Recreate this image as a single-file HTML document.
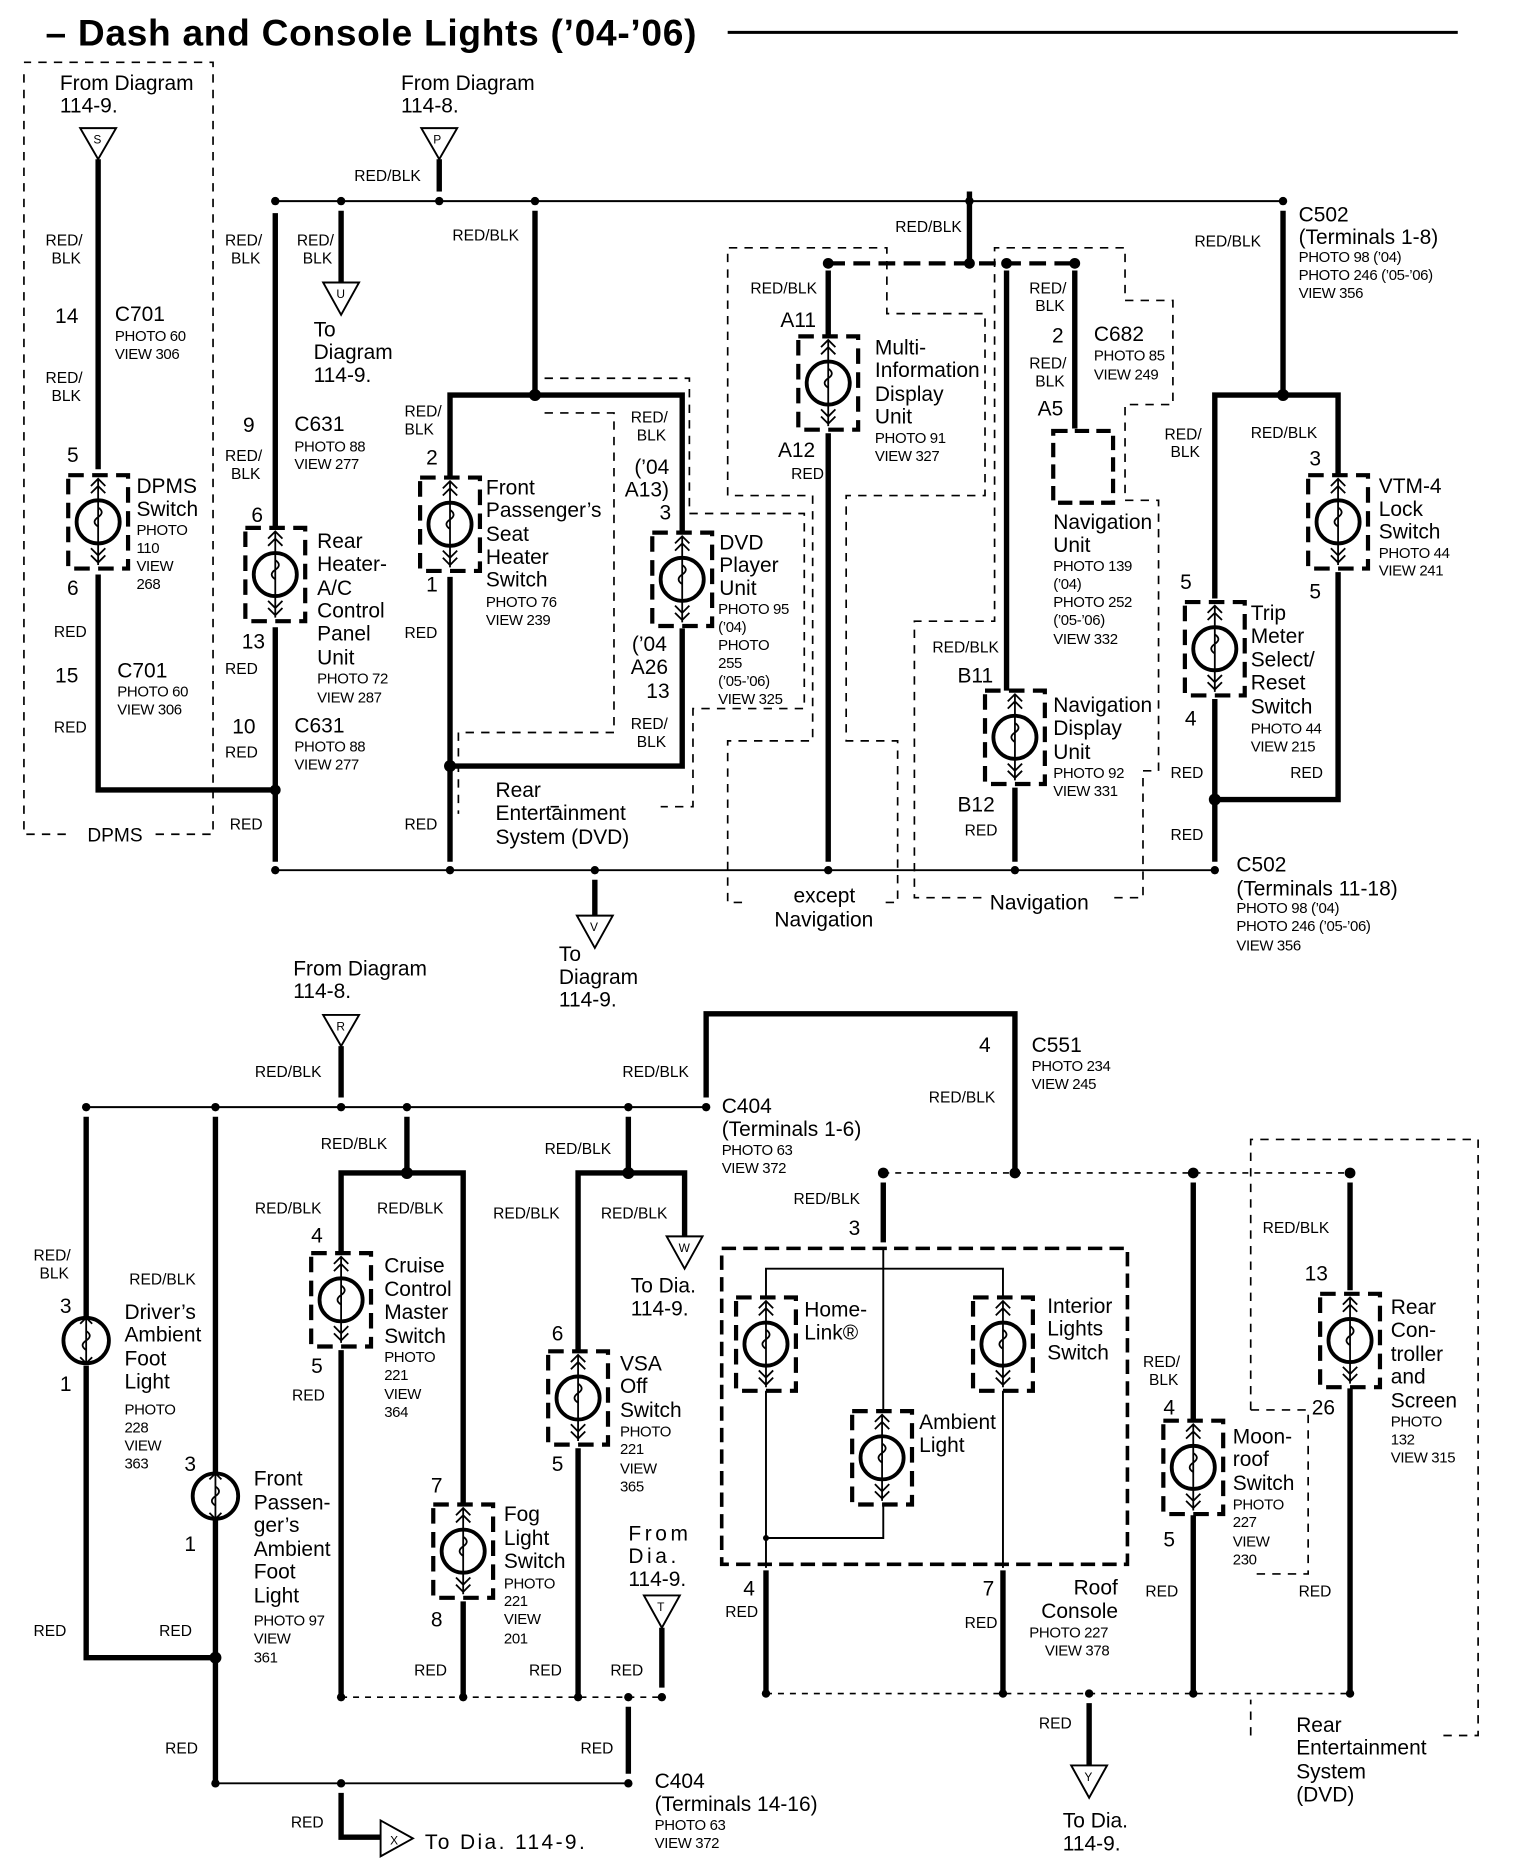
<!DOCTYPE html>
<html><head><meta charset="utf-8"><style>
html,body{margin:0;padding:0;background:#fff}
svg{display:block}
text{font-family:"Liberation Sans",sans-serif;fill:#000}
.t{font-size:17.5px}
.s{font-size:12.5px;letter-spacing:-0.3px}
.w{font-size:13px}
.n{font-size:16px}
.w4{stroke:#000;stroke-width:4.5;fill:none}
.w1{stroke:#000;stroke-width:1.6;fill:none}
.d{stroke:#000;stroke-width:1.4;fill:none;stroke-dasharray:7,6}
.dt{stroke:#000;stroke-width:1.4;fill:none;stroke-dasharray:5,5}
.db{stroke:#000;stroke-width:3.5;fill:none;stroke-dasharray:14,7}
</style></head><body>
<svg width="1520" height="1860" viewBox="0 0 1270 1554" xmlns="http://www.w3.org/2000/svg">
<defs>
<g id="sw">
<rect x="-25" y="-39" width="50" height="78" fill="none" stroke="#000" stroke-width="3.5" stroke-dasharray="13,7"/>
<circle r="18" fill="none" stroke="#000" stroke-width="3.2"/>
<path d="M0,-36 V36 M-6,-30 L0,-36 L6,-30 M-6,-24 L0,-30 L6,-24 M-6,28 L0,34 L6,28 M-6,22 L0,28 L6,22 M0,-12 q6,4 0,8 q-6,4 0,8" stroke="#000" stroke-width="1.5" fill="none"/>
</g>
<g id="lt">
<circle r="19" fill="none" stroke="#000" stroke-width="3.2"/>
<path d="M0,-19 V19 M-5,-14 L0,-19 L5,-14 M-5,14 L0,19 L5,14 M0,-8 q6,4 0,8 q-6,4 0,8" stroke="#000" stroke-width="1.5" fill="none"/>
</g>
</defs>

<!-- Title -->
<text x="38" y="38" style="font-size:31px;font-weight:bold;letter-spacing:0.6px">– Dash and Console Lights (’04-’06)</text>
<line x1="608" y1="27" x2="1218" y2="27" stroke="#000" stroke-width="2.5"/>

<!-- DPMS box -->
<path class="d" d="M20,62 V697 H60 M130,697 H178 V52 H20"/>
<text x="73" y="703" class="n">DPMS</text>
<text x="50" y="75" class="t">From Diagram</text><text x="50" y="94" class="t">114-9.</text>
<path d="M67,107 H97 L82,133 Z" class="w1"/><text x="78" y="120" class="s" style="font-size:10px">S</text>
<path class="w4" d="M82,133 V392"/>
<text x="38" y="205" class="w">RED/</text><text x="43" y="220" class="w">BLK</text>
<text x="46" y="270" class="t">14</text><text x="96" y="268" class="t">C701</text>
<text x="96" y="285" class="s">PHOTO 60</text><text x="96" y="300" class="s">VIEW 306</text>
<text x="38" y="320" class="w">RED/</text><text x="43" y="335" class="w">BLK</text>
<text x="56" y="386" class="t">5</text>
<use href="#sw" x="82" y="436"/>
<text x="114" y="412" class="t">DPMS</text><text x="114" y="431" class="t">Switch</text>
<text x="114" y="447" class="s">PHOTO</text><text x="114" y="462" class="s">110</text><text x="114" y="477" class="s">VIEW</text><text x="114" y="492" class="s">268</text>
<text x="56" y="497" class="t">6</text>
<path class="w4" d="M82,480 V660 H230"/>
<text x="45" y="532" class="w">RED</text>
<text x="46" y="570" class="t">15</text><text x="98" y="566" class="t">C701</text>
<text x="98" y="582" class="s">PHOTO 60</text><text x="98" y="597" class="s">VIEW 306</text>
<text x="45" y="612" class="w">RED</text>

<!-- Top bus -->
<text x="335" y="75" class="t">From Diagram</text><text x="335" y="94" class="t">114-8.</text>
<path d="M352,107 H382 L367,133 Z" class="w1"/><text x="362" y="120" class="s" style="font-size:10px">P</text>
<path class="w4" d="M367,133 V160"/>
<text x="296" y="151" class="w">RED/BLK</text>
<path class="w1" d="M230,168 H1072"/>
<g fill="#000"><circle cx="230" cy="168" r="3.5"/><circle cx="285" cy="168" r="3.5"/><circle cx="367" cy="168" r="3.5"/><circle cx="447" cy="168" r="3.5"/><circle cx="810" cy="168" r="3.5"/><circle cx="1072" cy="168" r="3.5"/></g>

<!-- col 230 -->
<path class="w4" d="M230,178 V440"/>
<text x="188" y="205" class="w">RED/</text><text x="193" y="220" class="w">BLK</text>
<text x="203" y="361" class="t">9</text><text x="246" y="360" class="t">C631</text>
<text x="246" y="377" class="s">PHOTO 88</text><text x="246" y="392" class="s">VIEW 277</text>
<text x="188" y="385" class="w">RED/</text><text x="193" y="400" class="w">BLK</text>
<text x="210" y="436" class="t">6</text>
<use href="#sw" x="230" y="480"/>
<text x="265" y="458" class="t">Rear</text><text x="265" y="477" class="t">Heater-</text><text x="265" y="497" class="t">A/C</text><text x="265" y="516" class="t">Control</text><text x="265" y="535" class="t">Panel</text><text x="265" y="555" class="t">Unit</text>
<text x="265" y="571" class="s">PHOTO 72</text><text x="265" y="587" class="s">VIEW 287</text>
<text x="202" y="542" class="t">13</text>
<path class="w4" d="M230,524 V720"/>
<text x="188" y="563" class="w">RED</text>
<text x="194" y="613" class="t">10</text><text x="246" y="612" class="t">C631</text>
<text x="246" y="628" class="s">PHOTO 88</text><text x="246" y="643" class="s">VIEW 277</text>
<text x="188" y="633" class="w">RED</text>
<circle cx="230" cy="660" r="4.5" fill="#000"/>
<text x="192" y="693" class="w">RED</text>

<!-- col 285 -->
<path class="w4" d="M285,176 V236"/>
<text x="248" y="205" class="w">RED/</text><text x="253" y="220" class="w">BLK</text>
<path d="M270,236 H300 L285,263 Z" class="w1"/><text x="281" y="249" class="s" style="font-size:10px">U</text>
<text x="262" y="281" class="t">To</text><text x="262" y="300" class="t">Diagram</text><text x="262" y="319" class="t">114-9.</text>

<!-- col 447 front passenger & DVD -->
<path class="w4" d="M447,176 V330 M447,330 H376 V398 M447,330 H570 V444"/>
<circle cx="447" cy="330" r="5" fill="#000"/>
<text x="378" y="201" class="w">RED/BLK</text>
<text x="338" y="348" class="w">RED/</text><text x="338" y="363" class="w">BLK</text>
<text x="356" y="388" class="t">2</text>
<use href="#sw" x="376" y="438"/>
<text x="406" y="413" class="t">Front</text><text x="406" y="432" class="t">Passenger’s</text><text x="406" y="452" class="t">Seat</text><text x="406" y="471" class="t">Heater</text><text x="406" y="490" class="t">Switch</text>
<text x="406" y="507" class="s">PHOTO 76</text><text x="406" y="522" class="s">VIEW 239</text>
<text x="356" y="494" class="t">1</text>
<path class="w4" d="M376,482 V720 M376,640 H570 V525"/>
<circle cx="376" cy="640" r="5" fill="#000"/>
<text x="338" y="533" class="w">RED</text><text x="338" y="693" class="w">RED</text>
<text x="527" y="353" class="w">RED/</text><text x="532" y="368" class="w">BLK</text>
<text x="530" y="396" class="t">(’04</text><text x="522" y="415" class="t">A13)</text><text x="551" y="434" class="t">3</text>
<use href="#sw" x="570" y="484"/>
<text x="601" y="459" class="t">DVD</text><text x="601" y="478" class="t">Player</text><text x="601" y="497" class="t">Unit</text>
<text x="600" y="513" class="s">PHOTO 95</text><text x="600" y="528" class="s">(’04)</text><text x="600" y="543" class="s">PHOTO</text><text x="600" y="558" class="s">255</text><text x="600" y="573" class="s">(’05-’06)</text><text x="600" y="588" class="s">VIEW 325</text>
<text x="528" y="544" class="t">(’04</text><text x="527" y="563" class="t">A26</text><text x="540" y="583" class="t">13</text>
<text x="527" y="609" class="w">RED/</text><text x="532" y="624" class="w">BLK</text>
<path class="d" d="M455,316 H576 V429 H672 V592 H579 V674 H552 M467,674 H455 M455,345 H513 V612 H383 V680"/>
<text x="414" y="666" class="t">Rear</text><text x="414" y="685" class="t">Entertainment</text><text x="414" y="705" class="t">System (DVD)</text>

<!-- multi info / nav -->
<path class="w4" d="M810,160 V220"/>
<text x="748" y="194" class="w">RED/BLK</text>
<path class="db" d="M692,220 H898"/>
<g fill="#000"><circle cx="692" cy="220" r="4.5"/><circle cx="810" cy="220" r="4.5"/><circle cx="841" cy="220" r="4.5"/><circle cx="898" cy="220" r="4.5"/></g>
<path class="d" d="M620,754 H608 V619 H679 V414 H608 V207 H741 V262 H823 V414 H707 V619 H750 V754 H738"/>
<path class="w4" d="M692,226 V280"/>
<text x="627" y="245" class="w">RED/BLK</text>
<text x="652" y="273" class="t">A11</text>
<use href="#sw" x="692" y="320"/>
<text x="731" y="296" class="t">Multi-</text><text x="731" y="315" class="t">Information</text><text x="731" y="335" class="t">Display</text><text x="731" y="354" class="t">Unit</text>
<text x="731" y="370" class="s">PHOTO 91</text><text x="731" y="385" class="s">VIEW 327</text>
<text x="650" y="382" class="t">A12</text><text x="661" y="400" class="w">RED</text>
<path class="w4" d="M692,362 V720"/>
<text x="663" y="754" class="t">except</text><text x="647" y="774" class="t">Navigation</text>

<path class="d" d="M820,750 H764 V519 H831 V207 H940 V251 H980 V338 H940 V418 H968 V644 H955 V750 H925"/>
<path class="w4" d="M841,226 V577"/>
<path class="w4" d="M898,226 V358"/>
<text x="860" y="245" class="w">RED/</text><text x="865" y="260" class="w">BLK</text>
<text x="879" y="286" class="t">2</text><text x="914" y="285" class="t">C682</text>
<text x="914" y="301" class="s">PHOTO 85</text><text x="914" y="317" class="s">VIEW 249</text>
<text x="860" y="308" class="w">RED/</text><text x="865" y="323" class="w">BLK</text>
<text x="867" y="347" class="t">A5</text>
<rect x="880" y="360" width="50" height="60" class="db" style="stroke-dasharray:12,6"/>
<text x="880" y="442" class="t">Navigation</text><text x="880" y="461" class="t">Unit</text>
<text x="880" y="477" class="s">PHOTO 139</text><text x="880" y="492" class="s">(’04)</text><text x="880" y="507" class="s">PHOTO 252</text><text x="880" y="522" class="s">(’05-’06)</text><text x="880" y="538" class="s">VIEW 332</text>
<text x="779" y="545" class="w">RED/BLK</text>
<text x="800" y="570" class="t">B11</text>
<use href="#sw" x="848" y="616"/>
<text x="880" y="595" class="t">Navigation</text><text x="880" y="614" class="t">Display</text><text x="880" y="634" class="t">Unit</text>
<text x="880" y="650" class="s">PHOTO 92</text><text x="880" y="665" class="s">VIEW 331</text>
<text x="800" y="678" class="t">B12</text><text x="806" y="698" class="w">RED</text>
<path class="w4" d="M848,658 V720"/>
<text x="827" y="760" class="t">Navigation</text>

<!-- right VTM/trip -->
<text x="1085" y="185" class="t">C502</text><text x="1085" y="204" class="t">(Terminals 1-8)</text>
<text x="1085" y="219" class="s">PHOTO 98 (’04)</text><text x="1085" y="234" class="s">PHOTO 246 (’05-’06)</text><text x="1085" y="249" class="s">VIEW 356</text>
<text x="998" y="206" class="w">RED/BLK</text>
<path class="w4" d="M1072,176 V330 M1015,500 V330 H1118 V398"/>
<circle cx="1072" cy="330" r="5" fill="#000"/>
<text x="1045" y="366" class="w">RED/BLK</text>
<text x="1094" y="389" class="t">3</text>
<use href="#sw" x="1118" y="436"/>
<text x="1152" y="412" class="t">VTM-4</text><text x="1152" y="431" class="t">Lock</text><text x="1152" y="450" class="t">Switch</text>
<text x="1152" y="466" class="s">PHOTO 44</text><text x="1152" y="481" class="s">VIEW 241</text>
<text x="1094" y="500" class="t">5</text>
<path class="w4" d="M1118,478 V668 H1015"/>
<text x="973" y="367" class="w">RED/</text><text x="978" y="382" class="w">BLK</text>
<text x="986" y="492" class="t">5</text>
<use href="#sw" x="1015" y="542"/>
<text x="1045" y="518" class="t">Trip</text><text x="1045" y="537" class="t">Meter</text><text x="1045" y="557" class="t">Select/</text><text x="1045" y="576" class="t">Reset</text><text x="1045" y="596" class="t">Switch</text>
<text x="1045" y="613" class="s">PHOTO 44</text><text x="1045" y="628" class="s">VIEW 215</text>
<text x="990" y="606" class="t">4</text>
<path class="w4" d="M1015,584 V720"/>
<circle cx="1015" cy="668" r="5" fill="#000"/>
<text x="978" y="650" class="w">RED</text><text x="1078" y="650" class="w">RED</text><text x="978" y="702" class="w">RED</text>

<!-- bottom bus upper -->
<path class="w1" d="M230,727 H1015"/>
<g fill="#000"><circle cx="230" cy="727" r="3.5"/><circle cx="376" cy="727" r="3.5"/><circle cx="497" cy="727" r="3.5"/><circle cx="692" cy="727" r="3.5"/><circle cx="848" cy="727" r="3.5"/><circle cx="1015" cy="727" r="3.5"/></g>
<path class="w4" d="M497,735 V765"/>
<path d="M482,765 H512 L497,792 Z" class="w1"/><text x="493" y="778" class="s" style="font-size:10px">V</text>
<text x="467" y="803" class="t">To</text><text x="467" y="822" class="t">Diagram</text><text x="467" y="841" class="t">114-9.</text>
<text x="1033" y="728" class="t">C502</text><text x="1033" y="748" class="t">(Terminals 11-18)</text>
<text x="1033" y="763" class="s">PHOTO 98 (’04)</text><text x="1033" y="778" class="s">PHOTO 246 (’05-’06)</text><text x="1033" y="794" class="s">VIEW 356</text>

<!-- ===== lower section ===== -->
<text x="245" y="815" class="t">From Diagram</text><text x="245" y="834" class="t">114-8.</text>
<path d="M270,848 H300 L285,874 Z" class="w1"/><text x="281" y="861" class="s" style="font-size:10px">R</text>
<path class="w4" d="M285,874 V917"/>
<text x="213" y="900" class="w">RED/BLK</text>
<path class="w1" d="M72,925 H590"/>
<g fill="#000"><circle cx="72" cy="925" r="3.5"/><circle cx="180" cy="925" r="3.5"/><circle cx="285" cy="925" r="3.5"/><circle cx="340" cy="925" r="3.5"/><circle cx="525" cy="925" r="3.5"/><circle cx="590" cy="925" r="3.5"/></g>
<path class="w4" d="M590,917 V847 H848 V980"/>
<text x="520" y="900" class="w">RED/BLK</text>
<text x="603" y="930" class="t">C404</text><text x="603" y="949" class="t">(Terminals 1-6)</text>
<text x="603" y="965" class="s">PHOTO 63</text><text x="603" y="980" class="s">VIEW 372</text>
<text x="818" y="879" class="t">4</text><text x="862" y="879" class="t">C551</text>
<text x="862" y="895" class="s">PHOTO 234</text><text x="862" y="910" class="s">VIEW 245</text>
<text x="776" y="921" class="w">RED/BLK</text>

<!-- col 72 -->
<path class="w4" d="M72,933 V1100 M72,1141 V1385 H180"/>
<use href="#lt" x="72" y="1120"/>
<text x="28" y="1053" class="w">RED/</text><text x="33" y="1068" class="w">BLK</text>
<text x="50" y="1097" class="t">3</text><text x="50" y="1162" class="t">1</text>
<text x="104" y="1102" class="t">Driver’s</text><text x="104" y="1121" class="t">Ambient</text><text x="104" y="1141" class="t">Foot</text><text x="104" y="1160" class="t">Light</text>
<text x="104" y="1182" class="s">PHOTO</text><text x="104" y="1197" class="s">228</text><text x="104" y="1212" class="s">VIEW</text><text x="104" y="1227" class="s">363</text>
<text x="28" y="1367" class="w">RED</text>
<!-- col 180 -->
<text x="108" y="1073" class="w">RED/BLK</text>
<path class="w4" d="M180,933 V1230 M180,1270 V1490"/>
<use href="#lt" x="180" y="1250"/>
<text x="154" y="1229" class="t">3</text><text x="154" y="1296" class="t">1</text>
<text x="212" y="1241" class="t">Front</text><text x="212" y="1261" class="t">Passen-</text><text x="212" y="1280" class="t">ger’s</text><text x="212" y="1300" class="t">Ambient</text><text x="212" y="1319" class="t">Foot</text><text x="212" y="1339" class="t">Light</text>
<text x="212" y="1358" class="s">PHOTO 97</text><text x="212" y="1373" class="s">VIEW</text><text x="212" y="1389" class="s">361</text>
<circle cx="180" cy="1385" r="5" fill="#000"/>
<text x="133" y="1367" class="w">RED</text><text x="138" y="1465" class="w">RED</text>
<path class="w1" d="M180,1490 H525"/>
<g fill="#000"><circle cx="180" cy="1490" r="3.5"/><circle cx="285" cy="1490" r="3.5"/><circle cx="525" cy="1490" r="3.5"/></g>
<path class="w4" d="M285,1498 V1535 H318"/>
<path d="M318,1521 V1551 L345,1536 Z" class="w1"/><text x="326" y="1541" class="s" style="font-size:10px">X</text>
<text x="243" y="1527" class="w">RED</text>
<text x="355" y="1545" class="t" style="letter-spacing:2px">To Dia. 114-9.</text>

<!-- cruise / fog -->
<path class="w4" d="M340,933 V980 M285,1046 V980 H387 V1256"/>
<circle cx="340" cy="980" r="5" fill="#000"/>
<text x="268" y="960" class="w">RED/BLK</text>
<text x="213" y="1014" class="w">RED/BLK</text><text x="315" y="1014" class="w">RED/BLK</text>
<text x="260" y="1038" class="t">4</text>
<use href="#sw" x="285" y="1086"/>
<text x="321" y="1063" class="t">Cruise</text><text x="321" y="1083" class="t">Control</text><text x="321" y="1102" class="t">Master</text><text x="321" y="1122" class="t">Switch</text>
<text x="321" y="1138" class="s">PHOTO</text><text x="321" y="1153" class="s">221</text><text x="321" y="1169" class="s">VIEW</text><text x="321" y="1184" class="s">364</text>
<text x="260" y="1147" class="t">5</text><text x="244" y="1170" class="w">RED</text>
<path class="w4" d="M285,1128 V1418"/>
<text x="360" y="1247" class="t">7</text>
<use href="#sw" x="387" y="1296"/>
<text x="421" y="1271" class="t">Fog</text><text x="421" y="1291" class="t">Light</text><text x="421" y="1310" class="t">Switch</text>
<text x="421" y="1327" class="s">PHOTO</text><text x="421" y="1342" class="s">221</text><text x="421" y="1357" class="s">VIEW</text><text x="421" y="1373" class="s">201</text>
<text x="360" y="1359" class="t">8</text><text x="346" y="1400" class="w">RED</text>
<path class="w4" d="M387,1338 V1418"/>

<!-- VSA -->
<path class="w4" d="M525,933 V980 M483,1128 V980 H572 V1033"/>
<circle cx="525" cy="980" r="5" fill="#000"/>
<text x="455" y="964" class="w">RED/BLK</text>
<text x="412" y="1018" class="w">RED/BLK</text><text x="502" y="1018" class="w">RED/BLK</text>
<path d="M557,1033 H587 L572,1060 Z" class="w1"/><text x="567" y="1046" class="s" style="font-size:10px">W</text>
<text x="527" y="1080" class="t">To Dia.</text><text x="527" y="1099" class="t">114-9.</text>
<text x="461" y="1120" class="t">6</text>
<use href="#sw" x="483" y="1168"/>
<text x="518" y="1145" class="t">VSA</text><text x="518" y="1164" class="t">Off</text><text x="518" y="1184" class="t">Switch</text>
<text x="518" y="1200" class="s">PHOTO</text><text x="518" y="1215" class="s">221</text><text x="518" y="1231" class="s">VIEW</text><text x="518" y="1246" class="s">365</text>
<text x="461" y="1229" class="t">5</text>
<path class="w4" d="M483,1210 V1418"/>
<text x="442" y="1400" class="w">RED</text>
<text x="525" y="1287" class="t" style="letter-spacing:3px">From</text><text x="525" y="1306" class="t" style="letter-spacing:3px">Dia.</text><text x="525" y="1325" class="t">114-9.</text>
<path d="M538,1333 H568 L553,1360 Z" class="w1"/><text x="549" y="1346" class="s" style="font-size:10px">T</text>
<path class="w4" d="M553,1360 V1410"/>
<text x="510" y="1400" class="w">RED</text>
<path class="dt" d="M285,1418 H553"/>
<g fill="#000"><circle cx="285" cy="1418" r="3.5"/><circle cx="387" cy="1418" r="3.5"/><circle cx="483" cy="1418" r="3.5"/><circle cx="525" cy="1418" r="3.5"/><circle cx="553" cy="1418" r="3.5"/></g>
<path class="w4" d="M525,1426 V1482"/>
<text x="485" y="1465" class="w">RED</text>
<text x="547" y="1494" class="t">C404</text><text x="547" y="1513" class="t">(Terminals 14-16)</text>
<text x="547" y="1529" class="s">PHOTO 63</text><text x="547" y="1544" class="s">VIEW 372</text>

<!-- roof console -->
<path class="dt" d="M738,980 H1128"/>
<g fill="#000"><circle cx="738" cy="980" r="4.5"/><circle cx="848" cy="980" r="4.5"/><circle cx="997" cy="980" r="4.5"/><circle cx="1128" cy="980" r="4.5"/></g>
<path class="w4" d="M738,988 V1038"/>
<text x="663" y="1006" class="w">RED/BLK</text><text x="709" y="1032" class="t">3</text>
<rect x="603" y="1043" width="339" height="264" class="db" style="stroke-width:3;stroke-dasharray:12,6"/>
<path class="w1" d="M738,1043 V1180 M640,1084 V1060 H838 V1084 M640,1162 V1310 M838,1162 V1310 M738,1256 V1285 H640"/>
<circle cx="640" cy="1285" r="2.5" fill="#000"/>
<use href="#sw" x="640" y="1123"/>
<use href="#sw" x="838" y="1123"/>
<use href="#sw" x="737" y="1218"/>
<text x="672" y="1100" class="t">Home-</text><text x="672" y="1119" class="t">Link®</text>
<text x="875" y="1097" class="t">Interior</text><text x="875" y="1116" class="t">Lights</text><text x="875" y="1136" class="t">Switch</text>
<text x="768" y="1194" class="t">Ambient</text><text x="768" y="1213" class="t">Light</text>
<text x="621" y="1333" class="t">4</text><text x="606" y="1351" class="w">RED</text>
<text x="821" y="1333" class="t">7</text><text x="806" y="1360" class="w">RED</text>
<path class="w4" d="M640,1312 V1415 M838,1312 V1415"/>
<text x="897" y="1332" class="t">Roof</text><text x="870" y="1352" class="t">Console</text>
<text x="860" y="1368" class="s">PHOTO 227</text><text x="873" y="1383" class="s">VIEW 378</text>
<path class="dt" d="M640,1415 H1128"/>
<g fill="#000"><circle cx="640" cy="1415" r="3.5"/><circle cx="838" cy="1415" r="3.5"/><circle cx="910" cy="1415" r="3.5"/><circle cx="997" cy="1415" r="3.5"/><circle cx="1128" cy="1415" r="3.5"/></g>
<path class="w4" d="M910,1423 V1475"/>
<text x="868" y="1444" class="w">RED</text>
<path d="M895,1475 H925 L910,1502 Z" class="w1"/><text x="906" y="1488" class="s" style="font-size:10px">Y</text>
<text x="888" y="1527" class="t">To Dia.</text><text x="888" y="1546" class="t">114-9.</text>

<!-- moonroof -->
<path class="w4" d="M997,988 V1186 M997,1266 V1415"/>
<text x="955" y="1142" class="w">RED/</text><text x="960" y="1157" class="w">BLK</text>
<text x="972" y="1182" class="t">4</text>
<use href="#sw" x="997" y="1226"/>
<text x="1030" y="1206" class="t">Moon-</text><text x="1030" y="1225" class="t">roof</text><text x="1030" y="1245" class="t">Switch</text>
<text x="1030" y="1261" class="s">PHOTO</text><text x="1030" y="1276" class="s">227</text><text x="1030" y="1292" class="s">VIEW</text><text x="1030" y="1307" class="s">230</text>
<text x="972" y="1292" class="t">5</text><text x="957" y="1334" class="w">RED</text>

<!-- rear controller -->
<path class="d" d="M1045,1178 V952 H1235 V1450 H1205 M1045,1450 V1420 M1045,1178 H1093 V1315 H1045"/>
<path class="w4" d="M1128,988 V1078 M1128,1160 V1415"/>
<text x="1055" y="1030" class="w">RED/BLK</text>
<text x="1090" y="1070" class="t">13</text>
<use href="#sw" x="1128" y="1120"/>
<text x="1162" y="1098" class="t">Rear</text><text x="1162" y="1117" class="t">Con-</text><text x="1162" y="1137" class="t">troller</text><text x="1162" y="1156" class="t">and</text><text x="1162" y="1176" class="t">Screen</text>
<text x="1162" y="1192" class="s">PHOTO</text><text x="1162" y="1207" class="s">132</text><text x="1162" y="1222" class="s">VIEW 315</text>
<text x="1096" y="1182" class="t">26</text><text x="1085" y="1334" class="w">RED</text>
<text x="1083" y="1447" class="t">Rear</text><text x="1083" y="1466" class="t">Entertainment</text><text x="1083" y="1486" class="t">System</text><text x="1083" y="1505" class="t">(DVD)</text>
</svg>
</body></html>
